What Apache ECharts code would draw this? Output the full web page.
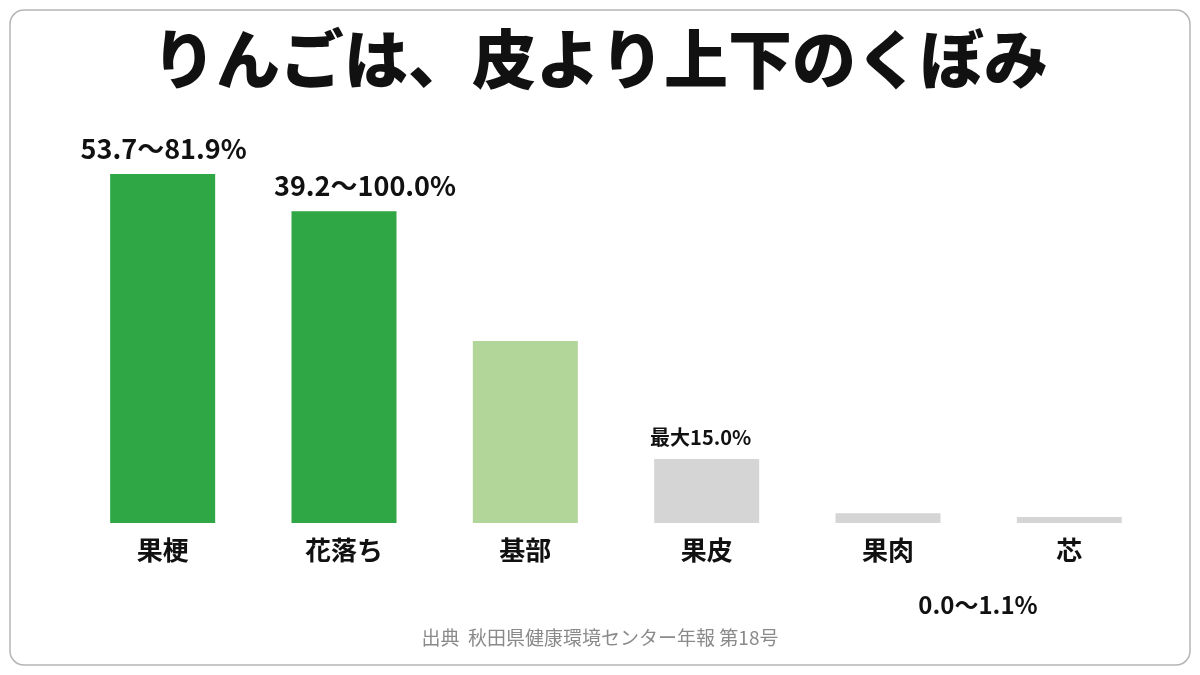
<!DOCTYPE html>
<html>
<head>
<meta charset="utf-8">
<script src="https://cdn.jsdelivr.net/npm/echarts@6/dist/echarts.min.js"></script>
<style>
  html, body { margin: 0; padding: 0; background: #fff; }
  #main { width: 1200px; height: 675px; }
</style>
</head>
<body>
<div id="main"></div>
<script>
  // 部位
  var categories = ['果梗', '花落ち', '基部', '果皮', '果肉', '芯'];
  // 棒の高さ
  var values = [81.9, 73.2, 42.7, 15.0, 2.3, 1.4];
  // 棒の上の注記
  var valueLabels = ['53.7〜81.9%', '39.2〜100.0%', '', '最大15.0%', '0.0〜1.1%', ''];
  var barColors = ['#2ea744', '#2ea744', '#b2d59a', '#d5d5d5', '#d5d5d5', '#d5d5d5'];

  var FONT = '"Noto Sans CJK JP", "Noto Sans", sans-serif';

  // 注記の位置の調整
  var labelStyle = function(i) {
    var txt = valueLabels[i];
    if (!txt) return { show: false };
    var lab = {
      show: true,
      formatter: txt,
      fontFamily: FONT,
      fontWeight: 'bold',
      color: '#111',
      fontSize: 27,
      position: 'top',
      distance: 12
    };
    if (i === 1) lab.offset = [21, 0];
    if (i === 0) lab.offset = [1, 0];
    if (i === 3) { lab.fontSize = 20; lab.offset = [-6, 0]; }
    if (i === 4) { lab.position = 'bottom'; lab.offset = [90, 58]; lab.fontSize = 24; }
    return lab;
  };

  var data = values.map(function(v, i) {
    return {
      value: v,
      itemStyle: { color: barColors[i] },
      label: labelStyle(i)
    };
  });

  var chart = echarts.init(document.getElementById('main'));
  var option = {
    backgroundColor: '#fff',
    animation: false,
    title: {
      text: 'りんごは、皮より上下のくぼみ',
      left: 'center',
      top: 22,
      textStyle: {
        fontFamily: FONT,
        fontWeight: 900,
        fontSize: 64,
        color: '#111'
      }
    },
    graphic: [{
      type: 'rect',
      shape: { x: 10, y: 10, width: 1180, height: 655, r: 14 },
      style: { fill: 'none', stroke: '#b5b5b5', lineWidth: 1.5 },
      silent: true,
      z: -1
    }, {
      type: 'text',
      left: 'center',
      top: 628,
      style: {
        text: '出典  秋田県健康環境センター年報 第18号',
        fontFamily: FONT,
        fontSize: 19,
        fill: '#8a8a8a'
      }
    }],
    grid: { left: 72, right: 40, top: 97, bottom: 152 },
    xAxis: {
      type: 'category',
      data: categories,
      axisLine: { show: false },
      axisTick: { show: false },
      axisLabel: {
        margin: 14,
        fontFamily: FONT,
        fontWeight: 'bold',
        fontSize: 26,
        color: '#111'
      }
    },
    yAxis: {
      type: 'value',
      min: 0,
      max: 100,
      show: false,
      splitLine: { show: false }
    },
    series: [{
      type: 'bar',
      barWidth: 105,
      data: data
    }]
  };
  chart.setOption(option);
</script>
</body>
</html>
